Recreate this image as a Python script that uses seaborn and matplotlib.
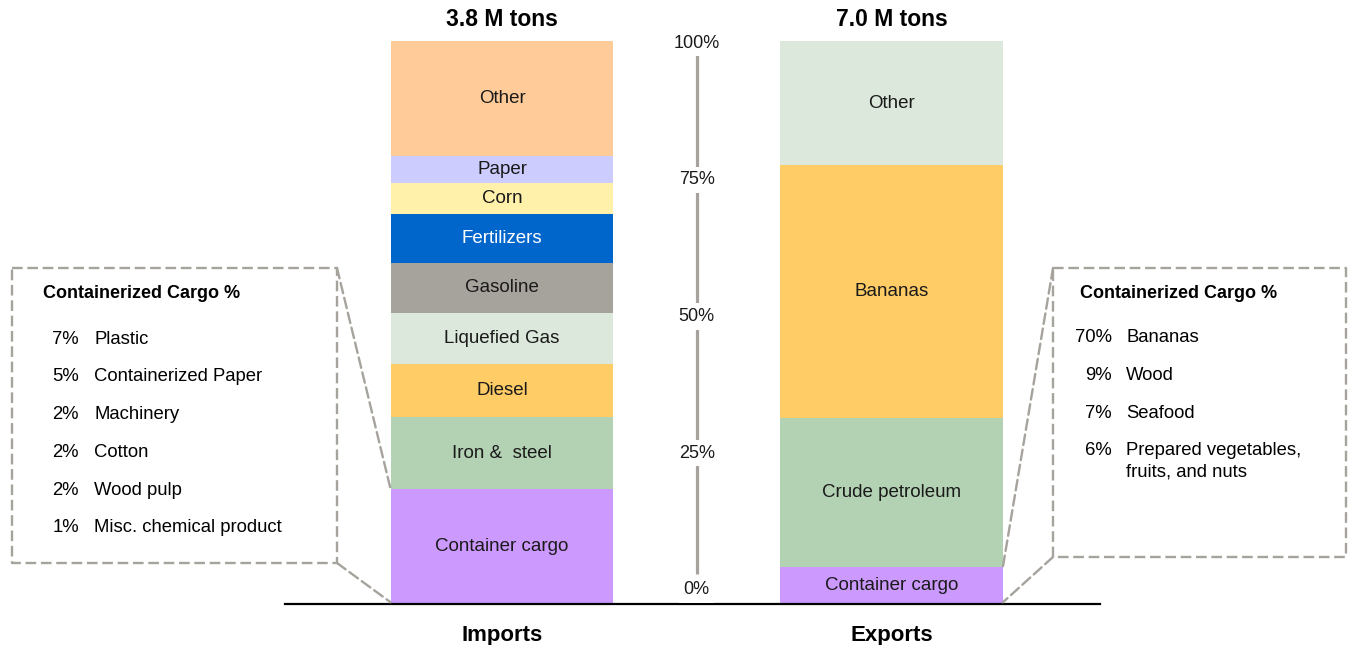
import matplotlib
matplotlib.use("Agg")
import matplotlib.pyplot as plt
from matplotlib.patches import ConnectionPatch
import seaborn as sns
import numpy as np

# ---------------- data ----------------
bars = ["Imports", "Exports"]
bar_totals = ["3.8 M tons", "7.0 M tons"]

imports_labels = ["Container cargo", "Iron &  steel", "Diesel", "Liquefied Gas",
                  "Gasoline", "Fertilizers", "Corn", "Paper", "Other"]
imports_values = [20.4, 12.8, 9.4, 9.1, 8.9, 8.7, 5.5, 4.8, 20.4]
imports_colors = ["#CC99FF", "#B3D1B3", "#FFCC66", "#DCE8DC",
                  "#A6A29C", "#0066CC", "#FFF0AA", "#CCCCFF", "#FFCC99"]

exports_labels = ["Container cargo", "Crude petroleum", "Bananas", "Other"]
exports_values = [6.6, 26.5, 44.8, 22.1]
exports_colors = ["#CC99FF", "#B3D1B3", "#FFCC66", "#DCE8DC"]

axis_ticks = [0, 25, 50, 75, 100]
axis_tick_labels = ["0%", "25%", "50%", "75%", "100%"]

box_title = "Containerized Cargo %"
imports_cc_pct = ["7%", "5%", "2%", "2%", "2%", "1%"]
imports_cc_items = ["Plastic", "Containerized Paper", "Machinery", "Cotton",
                    "Wood pulp", "Misc. chemical product"]
exports_cc_pct = ["70%", "9%", "7%", "6%"]
exports_cc_items = ["Bananas", "Wood", "Seafood",
                    "Prepared vegetables,\nfruits, and nuts"]

# ---------------- style ----------------
sns.set_theme(style="white")
plt.rcParams["font.family"] = ["Liberation Sans", "DejaVu Sans"]
plt.rcParams["text.color"] = "black"
plt.rcParams["xtick.color"] = "black"

W, H = 1352, 645
fig = plt.figure(figsize=(W / 100, H / 100), dpi=100)

# main axes: baseline from x=285..1100 px, y 0%..100% at 604..41 px
ax = fig.add_axes([285 / W, (H - 604) / H, 815 / W, 563 / H])
bar_w = 0.572
text_col = "#1a1a1a"

def stacked(cat, labels, values, colors):
    bottom = 0.0
    for lab, val, col in zip(labels, values, colors):
        sns.barplot(x=[cat], y=[val], order=bars, bottom=bottom, color=col,
                    saturation=1, width=bar_w, errorbar=None, ax=ax,
                    linewidth=0)
        tc = "white" if col == "#0066CC" else text_col
        ax.text(bars.index(cat), bottom + val / 2, lab, ha="center",
                va="center", fontsize=13.5, color=tc, zorder=5)
        bottom += val

stacked("Imports", imports_labels, imports_values, imports_colors)
stacked("Exports", exports_labels, exports_values, exports_colors)

xl = -(502 - 285) / 389.5
xr = 1 + (1100 - 891.5) / 389.5
ax.set_xlim(xl, xr)
ax.set_ylim(0, 100)
ax.set_yticks([])
ax.set_ylabel("")
ax.set_xlabel("")
for s in ["top", "left", "right"]:
    ax.spines[s].set_visible(False)
ax.spines["bottom"].set_color("black")
ax.spines["bottom"].set_linewidth(1.6)
ax.tick_params(axis="x", length=0, pad=15, colors="black")
ax.set_xticks(range(len(bars)))
ax.set_xticklabels(bars, fontsize=16, fontweight="bold", color="black")

for i, t in enumerate(bar_totals):
    ax.text(i, (604 - 20) / 5.63, t, ha="center", va="center",
            fontsize=16.5, fontweight="bold", color="black", clip_on=False)

# central percentage axis
tax = ax.twinx()
tax.set_ylim(-2.56, 100.37)
tax.set_yticks([])
for s in tax.spines.values():
    s.set_visible(False)
gray = "#A6A29C"
tax.plot([0.5, 0.5], [2.9, 97.8], color=gray, lw=2.3, solid_capstyle="butt",
         zorder=1)
for v, lab in zip(axis_ticks, axis_tick_labels):
    tax.text(0.5, v, lab, ha="center", va="center", fontsize=13,
             color=text_col, zorder=3,
             bbox=dict(boxstyle="square,pad=0.25", fc="white", ec="none"))

# overlay in pixel coords for callout boxes
ov = fig.add_axes([0, 0, 1, 1], zorder=10)
ov.set_xlim(0, W)
ov.set_ylim(H, 0)
ov.axis("off")
ov.patch.set_alpha(0)

dash = (0, (4.5, 2))
lw_box = 1.7

def box(x0, x1, y0, y1):
    ov.plot([x0, x1, x1, x0, x0], [y0, y0, y1, y1, y0], color=gray, lw=lw_box,
            linestyle=dash)

# left box
box(12, 337, 268, 563)
# right box
box(1053, 1346, 268, 557)

# connectors to container-cargo segments (data coords)
imp_top = imports_values[0]
exp_top = exports_values[0]
for (xyA, xyB) in [((337, 268), (0 - bar_w / 2, imp_top)),
                   ((337, 563), (0 - bar_w / 2, 0.3)),
                   ((1053, 268), (1 + bar_w / 2, exp_top)),
                   ((1053, 557), (1 + bar_w / 2, 0.3))]:
    cp = ConnectionPatch(xyA=xyA, coordsA=ov.transData, xyB=xyB,
                         coordsB=ax.transData, color=gray, lw=lw_box,
                         linestyle=dash, zorder=9)
    fig.add_artist(cp)

fs_box = 13.3

def box_items(title_x, pct_x, item_x, y0, step, pcts, items):
    ov.text(title_x, 293, box_title, ha="left", va="center", fontsize=13,
            fontweight="bold", color="black")
    for k, (p, it) in enumerate(zip(pcts, items)):
        y = y0 + k * step
        ov.text(pct_x, y + 6.5, p, ha="right", va="baseline", fontsize=fs_box,
                color="black")
        for j, line in enumerate(it.split("\n")):
            ov.text(item_x, y + 6.5 + j * 21.5, line, ha="left",
                    va="baseline", fontsize=fs_box, color="black")

box_items(43, 79, 94, 337, 37.8, imports_cc_pct, imports_cc_items)
box_items(1080, 1112, 1126, 336, 37.5, exports_cc_pct, exports_cc_items)

fig.savefig("out.png", dpi=100)
